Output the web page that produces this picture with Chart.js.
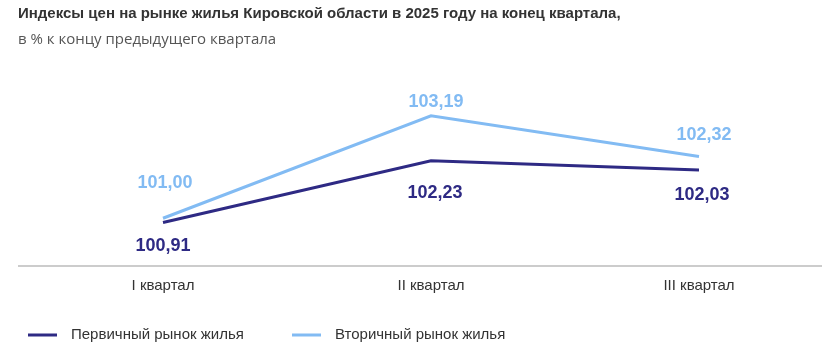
<!DOCTYPE html>
<html>
<head>
<meta charset="utf-8">
<script src="https://cdn.jsdelivr.net/npm/chart.js@4"></script>
<style>
  html, body { margin: 0; padding: 0; background: #ffffff; overflow: hidden; }
  #wrap { position: relative; width: 862px; height: 358px; }
</style>
</head>
<body>
<div id="wrap"><canvas id="c"></canvas></div>
<script>
const titleText = "Индексы цен на рынке жилья Кировской области в 2025 году на конец квартала,";
const subtitleText = "в % к концу предыдущего квартала";
const categories = ["I квартал", "II квартал", "III квартал"];
const seriesNames = ["Первичный рынок жилья", "Вторичный рынок жилья"];
const primaryValues = [100.91, 102.23, 102.03];
const secondaryValues = [101.00, 103.19, 102.32];

const colorPrimary = "#2e2a84";
const colorSecondary = "#82bbf3";
// label offsets (pixels) relative to each point: [dx, dy]
const labelOffsets = [
  [[0, 24], [4, 32], [3, 25]],
  [[2, -35], [5, -14], [5, -22]]
];

const fmt = v => v.toFixed(2).replace(".", ",");

const valueLabels = {
  id: "valueLabels",
  afterDatasetsDraw(chart) {
    const ctx = chart.ctx;
    ctx.save();
    ctx.font = "bold 18px 'Liberation Sans', Arial, sans-serif";
    ctx.textAlign = "center";
    ctx.textBaseline = "middle";
    chart.data.datasets.forEach((ds, di) => {
      const meta = chart.getDatasetMeta(di);
      ctx.fillStyle = ds.borderColor;
      meta.data.forEach((pt, i) => {
        const off = labelOffsets[di][i];
        ctx.fillText(fmt(ds.data[i]), pt.x + off[0], pt.y + off[1]);
      });
    });
    ctx.restore();
  }
};

const axisLine = {
  id: "axisLine",
  beforeDatasetsDraw(chart) {
    const ctx = chart.ctx;
    const y = chart.chartArea.bottom + 1;
    ctx.save();
    ctx.strokeStyle = "#cccccc";
    ctx.lineWidth = 2;
    ctx.beginPath();
    ctx.moveTo(18, y);
    ctx.lineTo(chart.width, y);
    ctx.stroke();
    ctx.restore();
  }
};

const customLegend = {
  id: "customLegend",
  afterDraw(chart) {
    const ctx = chart.ctx;
    const y = 335;
    const starts = [28, 292];
    ctx.save();
    ctx.font = "15px 'Liberation Sans', Arial, sans-serif";
    ctx.textBaseline = "middle";
    ctx.textAlign = "left";
    chart.data.datasets.forEach((ds, di) => {
      const x = starts[di];
      ctx.strokeStyle = ds.borderColor;
      ctx.lineWidth = 3;
      ctx.beginPath();
      ctx.moveTo(x, y);
      ctx.lineTo(x + 29, y);
      ctx.stroke();
      ctx.fillStyle = "#333333";
      ctx.fillText(ds.label, x + 43, y);
    });
    ctx.restore();
  }
};

new Chart(document.getElementById("c"), {
  type: "line",
  data: {
    labels: categories,
    datasets: [
      { label: seriesNames[0], data: primaryValues, borderColor: colorPrimary, backgroundColor: colorPrimary, borderWidth: 3, pointRadius: 0, tension: 0 },
      { label: seriesNames[1], data: secondaryValues, borderColor: colorSecondary, backgroundColor: colorSecondary, borderWidth: 3, pointRadius: 0, tension: 0 }
    ]
  },
  options: {
    responsive: true,
    maintainAspectRatio: false,
    animation: false,
    layout: { padding: { left: 18, right: 29, top: 5, bottom: 59 } },
    plugins: {
      legend: { display: false },
      tooltip: { enabled: false },
      title: {
        display: true, text: titleText, align: "start", color: "#333333",
        font: { family: "'Liberation Sans', Arial, sans-serif", size: 15, weight: "bold" },
        padding: { top: 0, bottom: 8 }
      },
      subtitle: {
        display: true, text: subtitleText, align: "start", color: "#555555",
        font: { family: "'Open Sans', sans-serif", size: 15, weight: "normal" },
        padding: { top: 0, bottom: 29 }
      }
    },
    scales: {
      x: {
        offset: true,
        grid: { display: false },
        border: { display: false },
        ticks: { color: "#333333", font: { family: "'Liberation Sans', Arial, sans-serif", size: 15 }, padding: 4 }
      },
      y: {
        min: 100, max: 104,
        grid: { display: false },
        border: { display: false },
        ticks: { display: false },
        afterFit(s) { s.width = 11; }
      }
    }
  },
  plugins: [valueLabels, axisLine, customLegend]
});
</script>
</body>
</html>
